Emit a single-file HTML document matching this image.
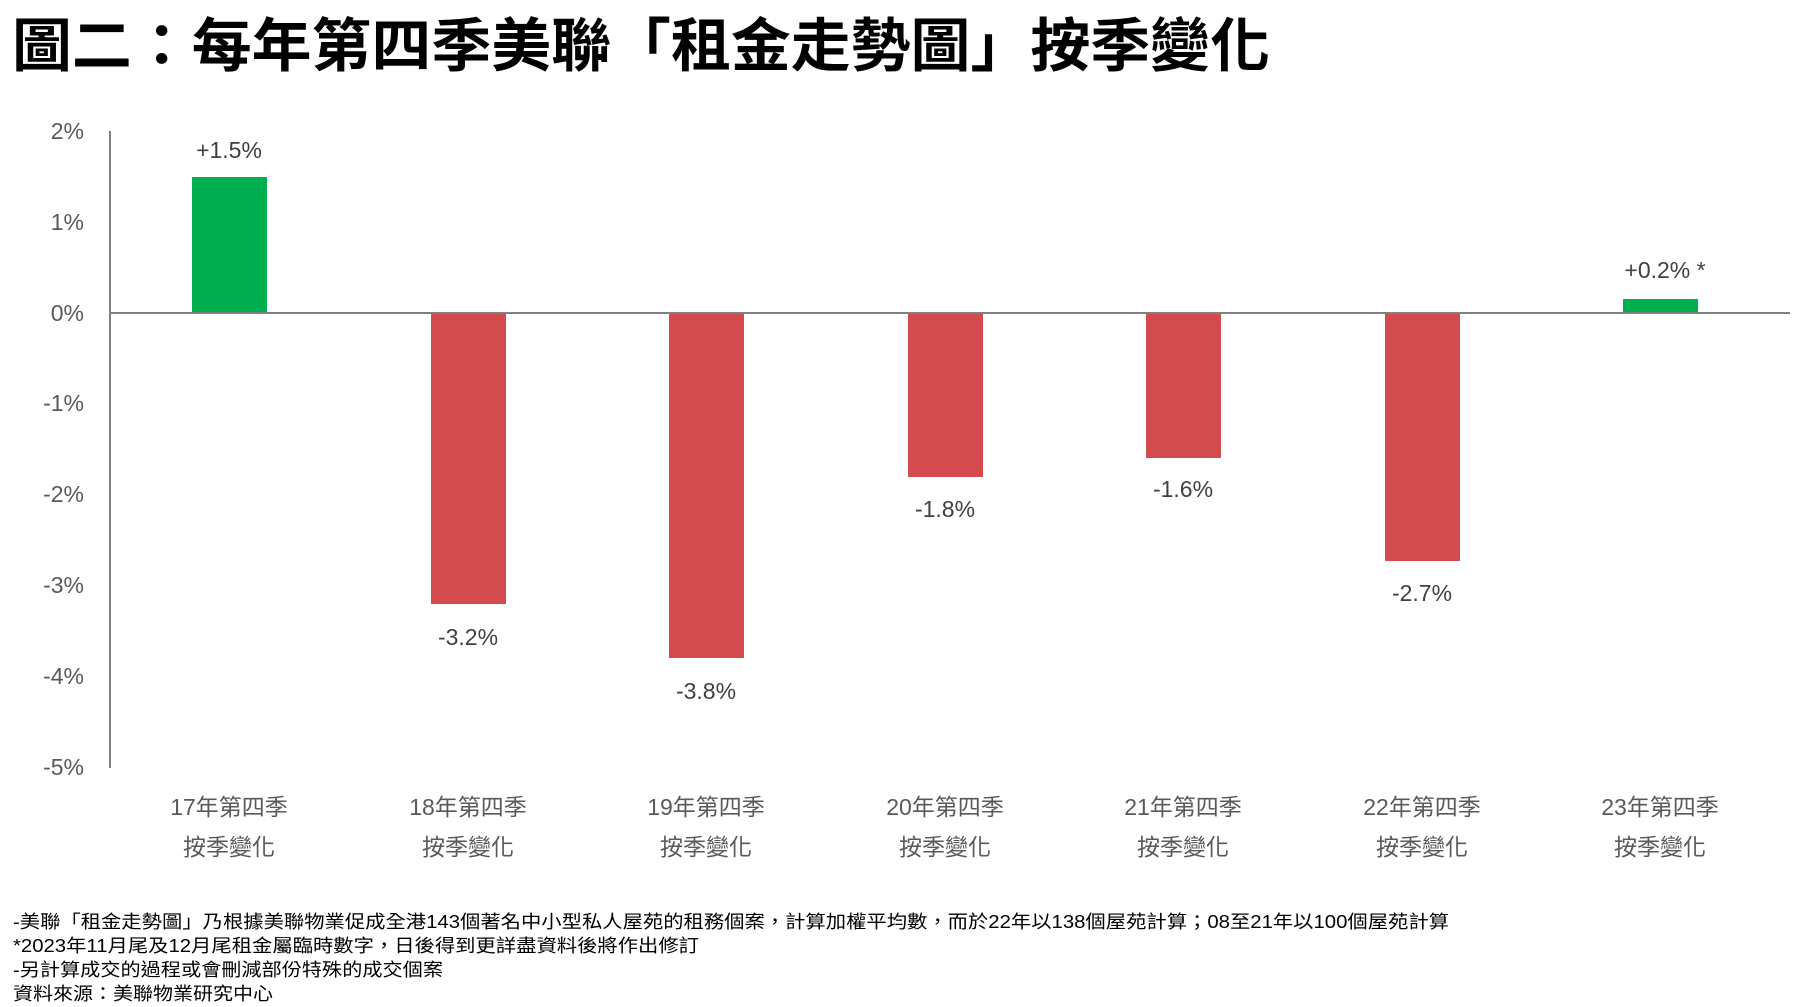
<!DOCTYPE html>
<html><head><meta charset="utf-8"><style>
html,body{margin:0;padding:0;background:#fff;}
svg{display:block;}
</style></head><body>
<svg width="1799" height="1007" xmlns="http://www.w3.org/2000/svg" font-family="'Liberation Sans','Noto Sans CJK TC',sans-serif">
<text x="12" y="66" font-size="58" font-weight="bold" fill="#000" textLength="1258" lengthAdjust="spacingAndGlyphs">圖二：每年第四季美聯「租金走勢圖」按季變化</text>
<g font-size="23" fill="#595959" text-anchor="end">
<text x="84" y="139">2%</text>
<text x="84" y="230">1%</text>
<text x="84" y="321">0%</text>
<text x="84" y="411">-1%</text>
<text x="84" y="502">-2%</text>
<text x="84" y="593">-3%</text>
<text x="84" y="684">-4%</text>
<text x="84" y="775">-5%</text>
</g>
<line x1="110" y1="131" x2="110" y2="768" stroke="#808080" stroke-width="2"/>
<g>
<rect x="192" y="177" width="75" height="136" fill="#00B050"/>
<rect x="431" y="313" width="75" height="291" fill="#D34B4E"/>
<rect x="669" y="313" width="75" height="345" fill="#D34B4E"/>
<rect x="908" y="313" width="75" height="164" fill="#D34B4E"/>
<rect x="1146" y="313" width="75" height="145" fill="#D34B4E"/>
<rect x="1385" y="313" width="75" height="248" fill="#D34B4E"/>
<rect x="1623" y="299" width="75" height="14" fill="#00B050"/>
</g>
<line x1="110" y1="313" x2="1790" y2="313" stroke="#808080" stroke-width="2"/>
<g font-size="23" fill="#404040" text-anchor="middle">
<text x="229" y="158">+1.5%</text>
<text x="468" y="645">-3.2%</text>
<text x="706" y="699">-3.8%</text>
<text x="945" y="517">-1.8%</text>
<text x="1183" y="497">-1.6%</text>
<text x="1422" y="601">-2.7%</text>
<text x="1665" y="278">+0.2% *</text>
</g>
<g font-size="23" fill="#595959" text-anchor="middle">
<text x="229" y="815">17年第四季</text><text x="229" y="855">按季變化</text>
<text x="468" y="815">18年第四季</text><text x="468" y="855">按季變化</text>
<text x="706" y="815">19年第四季</text><text x="706" y="855">按季變化</text>
<text x="945" y="815">20年第四季</text><text x="945" y="855">按季變化</text>
<text x="1183" y="815">21年第四季</text><text x="1183" y="855">按季變化</text>
<text x="1422" y="815">22年第四季</text><text x="1422" y="855">按季變化</text>
<text x="1660" y="815">23年第四季</text><text x="1660" y="855">按季變化</text>
</g>
<g font-size="18" fill="#000">
<text x="13" y="928" textLength="1436" lengthAdjust="spacingAndGlyphs">-美聯「租金走勢圖」乃根據美聯物業促成全港143個著名中小型私人屋苑的租務個案，計算加權平均數，而於22年以138個屋苑計算；08至21年以100個屋苑計算</text>
<text x="13" y="952" textLength="686" lengthAdjust="spacingAndGlyphs">*2023年11月尾及12月尾租金屬臨時數字，日後得到更詳盡資料後將作出修訂</text>
<text x="13" y="976" textLength="430" lengthAdjust="spacingAndGlyphs">-另計算成交的過程或會刪減部份特殊的成交個案</text>
<text x="13" y="1000" textLength="260" lengthAdjust="spacingAndGlyphs">資料來源：美聯物業研究中心</text>
</g>
</svg>
</body></html>
